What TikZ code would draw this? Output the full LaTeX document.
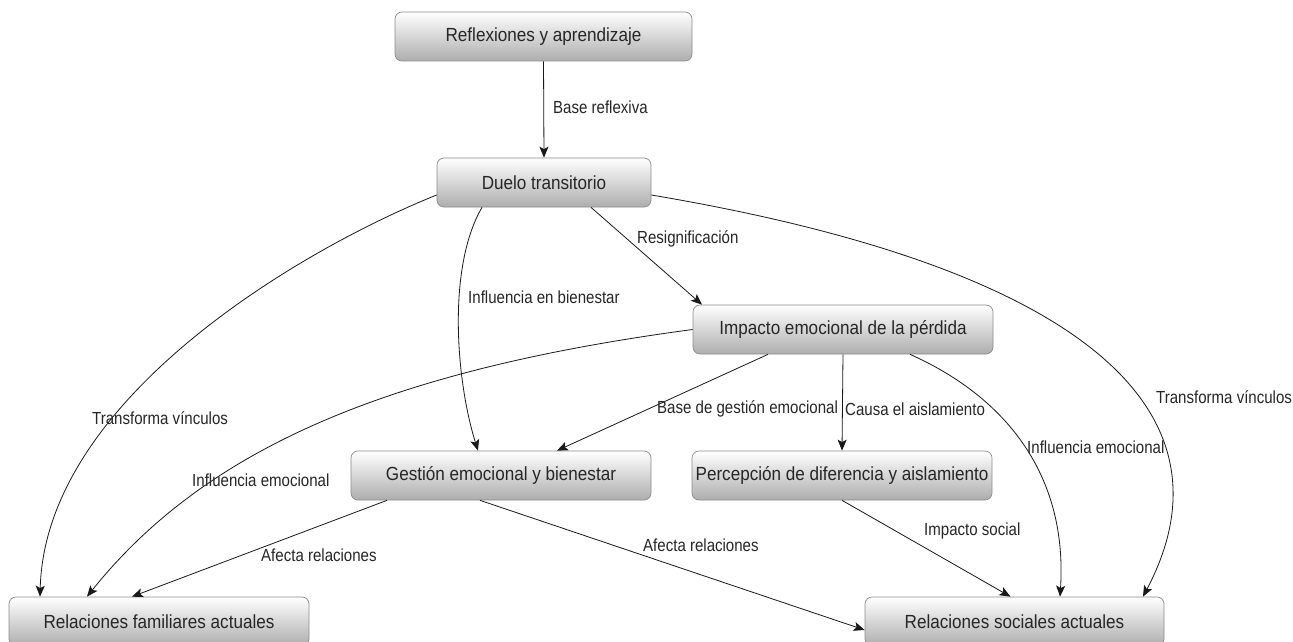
\documentclass[tikz,border=0pt]{standalone}
\usepackage{fontspec}
\setmainfont{Liberation Sans}
\newfontfamily\boxfont[FakeStretch=0.9]{Liberation Sans}
\newfontfamily\labfont[FakeStretch=0.86]{Liberation Sans}
\usetikzlibrary{arrows.meta}
\tikzset{
  box/.style={draw=black!45, line width=0.7pt, rounded corners=7pt, top color=white, bottom color=black!32,
    text=black!85, font=\boxfont\fontsize{19}{22}\selectfont, minimum height=49pt, inner sep=0pt},
  arr/.style={draw=black!90, line width=0.8pt, -{Stealth[length=11pt,width=9pt,inset=2.5pt]}},
  lab/.style={text=black!85, font=\labfont\fontsize{17.5}{20}\selectfont, inner sep=0pt, anchor=west}
}
\begin{document}
\begin{tikzpicture}[x=1pt,y=-1pt]
\useasboundingbox[fill=white] (0,0) rectangle (1293,642);
% nodes
\node[box, minimum width=297pt] (refl) at (543.5,36.5) {Reflexiones y aprendizaje};
\node[box, minimum width=214pt] (duelo) at (544,182.5) {Duelo transitorio};
\node[box, minimum width=300pt] (imp) at (843,329.5) {Impacto emocional de la pérdida};
\node[box, minimum width=300pt] (gest) at (501,475.5) {Gestión emocional y bienestar};
\node[box, minimum width=300pt] (perc) at (842,475.5) {Percepción de diferencia y aislamiento};
\node[box, minimum width=300pt] (fam) at (159,621.5) {Relaciones familiares actuales};
\node[box, minimum width=299pt] (soc) at (1014.5,621.5) {Relaciones sociales actuales};
% connectors
\draw[arr] (refl.south) -- (duelo.north);
\draw[arr] ([yshift=-12.5pt]duelo.west) .. controls +(-137,55) and +(5,-197) .. ([xshift=-119pt]fam.north);
\draw[arr] ([xshift=-62pt]duelo.south) .. controls +(-35,60) and +(-22,-70) .. ([xshift=-23pt]gest.north);
\draw[arr] ([xshift=47pt]duelo.south) -- ([xshift=-141pt]imp.north);
\draw[arr] ([yshift=-12.5pt]duelo.east) .. controls +(445,75) and +(95,-180) .. ([xshift=128.5pt]soc.north);
\draw[arr] (imp.west) .. controls +(-300,40) and +(120,-150) .. ([xshift=-72pt]fam.north);
\draw[arr] ([xshift=-75pt]imp.south) -- ([xshift=56pt]gest.north);
\draw[arr] (imp.south) -- (perc.north);
\draw[arr] ([xshift=67pt]imp.south) .. controls +(90,40) and +(8,-127) .. ([xshift=45.5pt]soc.north);
\draw[arr] ([xshift=-114pt]gest.south) -- ([xshift=-27pt]fam.north);
\draw[arr] ([xshift=-21pt]gest.south) -- ([yshift=-8.5pt]soc.west);
\draw[arr] (perc.south) -- ([xshift=-4pt]soc.north);
% labels
\node[lab] (l1) at (553,107) {Base reflexiva};
\node[lab] (l2) at (92,418) {Transforma vínculos};
\node[lab] (l3) at (468,297) {Influencia en bienestar};
\node[lab] (l4) at (637,239) {Resignificación};
\node[lab] (l5) at (1156,397) {Transforma vínculos};
\node[lab] (l6) at (192,480) {Influencia emocional};
\node[lab] (l7) at (657,409) {Base de gestión emocional};
\node[lab] (l8) at (845,409) {Causa el aislamiento};
\node[lab] (l9) at (1027,447) {Influencia emocional};
\node[lab] (l10) at (261,555) {Afecta relaciones};
\node[lab] (l11) at (643,545) {Afecta relaciones};
\node[lab] (l12) at (924,531) {Impacto social};
\end{tikzpicture}
\end{document}
